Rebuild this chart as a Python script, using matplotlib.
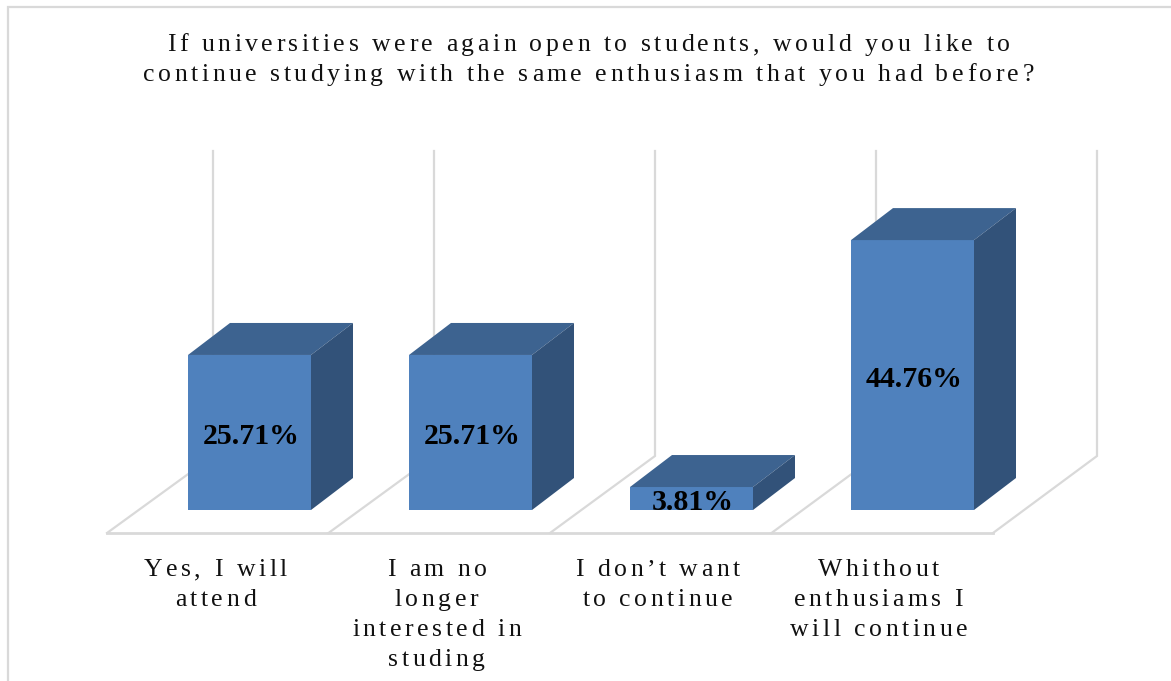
import matplotlib
matplotlib.use("Agg")
import matplotlib.pyplot as plt
from matplotlib.patches import Polygon
from matplotlib.text import Text
from matplotlib.transforms import Bbox

title_text = ("If universities were again open to students, would you like to\n"
              "continue studying with the same enthusiasm that you had before?")
categories = ["Yes, I will\nattend",
              "I am no\nlonger\ninterested in\nstuding",
              "I don\u2019t want\nto continue",
              "Whithout\nenthusiams I\nwill continue"]
values = [25.71, 25.71, 3.81, 44.76]

FRONT = "#4F81BD"
TOP = "#3D6390"
SIDE = "#325279"
GRID = "#D9D9D9"

# pixels per category and per percentage point
PX_X = 221.0
PX_Y = 6.03
X0_PX = 249.5
Y0_PX = 510.0
W, H = 1171, 681

BAR_W = 123 / PX_X
DEPTH_X = 42 / PX_X
DEPTH_Y = 32 / PX_Y


def xd(px):
    return (px - X0_PX) / PX_X


def yd(px):
    return (Y0_PX - px) / PX_Y


class SpacedText(Text):
    """Text drawn glyph by glyph with extra tracking, lines centred on x."""

    def __init__(self, x, y, text, tracking=3.0, line_px=30.0, **kwargs):
        super().__init__(x, y, text, ha="center", va="baseline", **kwargs)
        self.tracking = tracking
        self.line_px = line_px

    def _advances(self, renderer, line):
        prop = self.get_fontproperties()
        bar = renderer.get_text_width_height_descent("|", prop, False)[0]
        return [renderer.get_text_width_height_descent(c + "|", prop, False)[0] - bar + self.tracking
                for c in line]

    def draw(self, renderer):
        cx, cy = self.get_transform().transform(self.get_position())
        gc = renderer.new_gc()
        gc.set_foreground(self.get_color())
        gc.set_antialiased(True)
        prop = self.get_fontproperties()
        canvas_h = self.get_figure().bbox.height
        for i, line in enumerate(self.get_text().split("\n")):
            adv = self._advances(renderer, line)
            x = cx - (sum(adv) - self.tracking) / 2
            y = canvas_h - (cy - i * self.line_px)
            for ch, a in zip(line, adv):
                if ch != " ":
                    renderer.draw_text(gc, x, y, ch, prop, 0)
                x += a
        gc.restore()

    def get_window_extent(self, renderer=None, dpi=None):
        if renderer is None:
            renderer = self.get_figure().canvas.get_renderer()
        lines = self.get_text().split("\n")
        width = max(sum(self._advances(renderer, ln)) for ln in lines)
        cx, cy = self.get_transform().transform(self.get_position())
        return Bbox.from_extents(cx - width / 2, cy - self.line_px * (len(lines) - 1) - 6,
                                 cx + width / 2, cy + self.line_px * 0.7)


fig = plt.figure(figsize=(W / 100, H / 100), dpi=100, facecolor="white")
ax = fig.add_axes([0, 0, 1, 1])
ax.set_xlim(xd(0), xd(W))
ax.set_ylim(yd(H), yd(0))
ax.axis("off")

positions = list(range(len(categories)))

# chart frame, only the top and left edges show
ax.plot([xd(8), xd(8), xd(W)], [yd(H), yd(6.5), yd(6.5)],
        color=GRID, lw=1.6, zorder=1, solid_joinstyle="miter")

# floor and back wall of the 3D box
ax.plot([xd(107), xd(993)], [yd(533), yd(533)], color=GRID, lw=2, zorder=1)
for i in range(5):
    x_front = xd(107 + i * 221.5)
    x_back = xd(213 + i * 221)
    ax.plot([x_front, x_back, x_back], [yd(533), yd(456), yd(151)],
            color=GRID, lw=1.6, zorder=1, solid_joinstyle="miter")

# 3D bars: the front face from ax.bar, top and side as polygons
ax.bar(positions, values, width=BAR_W, color=FRONT, zorder=3)
for pos, val in zip(positions, values):
    left, right = pos - BAR_W / 2, pos + BAR_W / 2
    ax.add_patch(Polygon([(left, val), (right, val),
                          (right + DEPTH_X, val + DEPTH_Y), (left + DEPTH_X, val + DEPTH_Y)],
                         facecolor=TOP, edgecolor="none", zorder=3))
    ax.add_patch(Polygon([(right, 0), (right, val),
                          (right + DEPTH_X, val + DEPTH_Y), (right + DEPTH_X, DEPTH_Y)],
                         facecolor=SIDE, edgecolor="none", zorder=3))
    ax.annotate(f"{val:.2f}%", xy=(pos, val / 2), xytext=(1, -3), textcoords="offset points",
                ha="center", va="center", family="Liberation Serif", fontweight="bold",
                fontsize=21.5, color="black", zorder=4)

# title and category labels, first baselines given through the same scales
ax.add_artist(SpacedText(xd(588.5), yd(51), title_text,
                         tracking=3.5, line_px=30, family="Liberation Serif",
                         fontsize=18.5, color="#111111", transform=ax.transData, zorder=5))
for pos, label in zip(positions, categories):
    ax.add_artist(SpacedText(pos + xd(215.5), yd(576), label,
                             tracking=3.5, line_px=30, family="Liberation Serif",
                             fontsize=18.5, color="#111111", transform=ax.transData, zorder=5))

fig.savefig("out.png", dpi=100)
plt.close(fig)
